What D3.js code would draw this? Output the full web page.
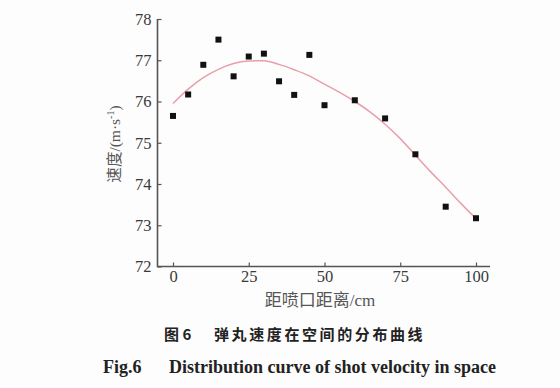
<!DOCTYPE html>
<head>
    <meta charset="utf-8">
    <script src="https://cdn.jsdelivr.net/npm/d3@7/dist/d3.min.js"></script>
    <style>
        body {
            margin: 0;
            background: #fdfdfd;
        }
        svg {
            display: block;
        }
    </style>
</head>

<body>
    <script>
        // measured points
        var distance = [0, 5, 10, 15, 20, 25, 30, 35, 40, 45, 50, 60, 70, 80, 90, 100];
        var velocity = [75.65, 76.17, 76.89, 77.5, 76.61, 77.09, 77.16, 76.49, 76.16, 77.13, 75.91, 76.03, 75.59, 74.72, 73.45, 73.17];

        // fitted curve
        var curveX = [0, 5, 10, 15, 20, 25, 30, 35, 40, 45, 50, 55, 60, 65, 70, 75, 80, 85, 90, 95, 100];
        var curveY = [75.95, 76.3, 76.58, 76.78, 76.92, 76.98, 76.99, 76.9, 76.77, 76.62, 76.42, 76.22, 76.0, 75.75, 75.45, 75.1, 74.7, 74.3, 73.92, 73.53, 73.16];

        var xTicks = [0, 25, 50, 75, 100];
        var yTicks = [72, 73, 74, 75, 76, 77, 78];

        var serif = "Liberation Serif";
        var cjk = "Noto Sans CJK SC";

        var svg = d3.select("body")
            .append("svg")
            .attr("width", 560)
            .attr("height", 388);

        var x = d3.scaleLinear().domain([0, 100]).range([173, 476]);
        var y = d3.scaleLinear().domain([72, 78]).range([266.5, 19]);

        // axes
        var xAxis = d3.axisBottom(x).tickValues(xTicks).tickFormat(d3.format("d"))
            .tickSizeInner(-4).tickSizeOuter(0).tickPadding(4);
        var yAxis = d3.axisLeft(y).tickValues(yTicks).tickFormat(d3.format("d"))
            .tickSizeInner(-4).tickSizeOuter(0).tickPadding(6);

        var gx = svg.append("g").attr("transform", "translate(0,266.5)").call(xAxis);
        var gy = svg.append("g").attr("transform", "translate(157.5,0)").call(yAxis);
        gx.attr("font-family", serif).attr("font-size", 16.5);
        gy.attr("font-family", serif).attr("font-size", 16.5);

        gx.select(".domain").remove();
        gy.select(".domain").remove();
        svg.append("path")
            .attr("d", "M157.5,19V266.5H490")
            .attr("fill", "none")
            .attr("stroke", "#555")
            .attr("stroke-width", 1.6);

        gx.selectAll(".tick line").attr("stroke", "#555").attr("stroke-width", 1.2);
        gy.selectAll(".tick line").attr("stroke", "#555").attr("stroke-width", 1.2)
            .attr("x1", 0).attr("x2", 4);
        svg.selectAll(".tick text").attr("fill", "#3a3a3a");
        gx.selectAll(".tick text").attr("dy", "0.71em");
        gy.selectAll(".tick text").attr("dy", "0.33em");

        // curve
        var pts = curveX.map(function (d, i) { return [d, curveY[i]]; });
        svg.append("path")
            .datum(pts)
            .attr("fill", "none")
            .attr("stroke", "#e8a0a8")
            .attr("stroke-width", 1.5)
            .attr("d", d3.line()
                .x(function (d) { return x(d[0]); })
                .y(function (d) { return y(d[1]); })
                .curve(d3.curveMonotoneX));

        // points
        svg.selectAll(".pt")
            .data(distance)
            .enter().append("rect")
            .attr("class", "pt")
            .attr("x", function (d) { return x(d) - 3; })
            .attr("y", function (d, i) { return y(velocity[i]) - 3; })
            .attr("width", 6)
            .attr("height", 6)
            .attr("fill", "#111");

        // axis titles
        var xt = svg.append("text")
            .attr("x", 320)
            .attr("y", 306)
            .attr("text-anchor", "middle")
            .attr("font-size", 17)
            .attr("fill", "#555");
        xt.append("tspan").attr("font-family", cjk).text("距喷口距离");
        xt.append("tspan").attr("font-family", serif).text("/cm");

        var yt = svg.append("text")
            .attr("transform", "translate(120,144) rotate(-90)")
            .attr("text-anchor", "middle")
            .attr("font-size", 15.5)
            .attr("fill", "#555");
        yt.append("tspan").attr("font-family", cjk).text("速度");
        yt.append("tspan").attr("font-family", serif).text("/(m·s");
        yt.append("tspan").attr("font-family", serif).attr("font-size", 10).attr("dy", -6).text("-1");
        yt.append("tspan").attr("font-family", serif).attr("dy", 6).text(")");

        // captions
        svg.append("text")
            .attr("x", 164)
            .attr("y", 340)
            .attr("font-family", cjk)
            .attr("font-weight", "bold")
            .attr("font-size", 15)
            .attr("fill", "#222")
            .text("图 6");
        svg.append("text")
            .attr("x", 214)
            .attr("y", 340)
            .attr("font-family", cjk)
            .attr("font-weight", "bold")
            .attr("font-size", 15)
            .attr("letter-spacing", 2.6)
            .attr("fill", "#222")
            .text("弹丸速度在空间的分布曲线");

        svg.append("text")
            .attr("x", 103)
            .attr("y", 373)
            .attr("font-family", serif)
            .attr("font-weight", "bold")
            .attr("font-size", 18)
            .attr("fill", "#222")
            .text("Fig.6");
        svg.append("text")
            .attr("x", 169)
            .attr("y", 373)
            .attr("font-family", serif)
            .attr("font-weight", "bold")
            .attr("font-size", 18)
            .attr("fill", "#222")
            .text("Distribution curve of shot velocity in space");
    </script>
</body>
